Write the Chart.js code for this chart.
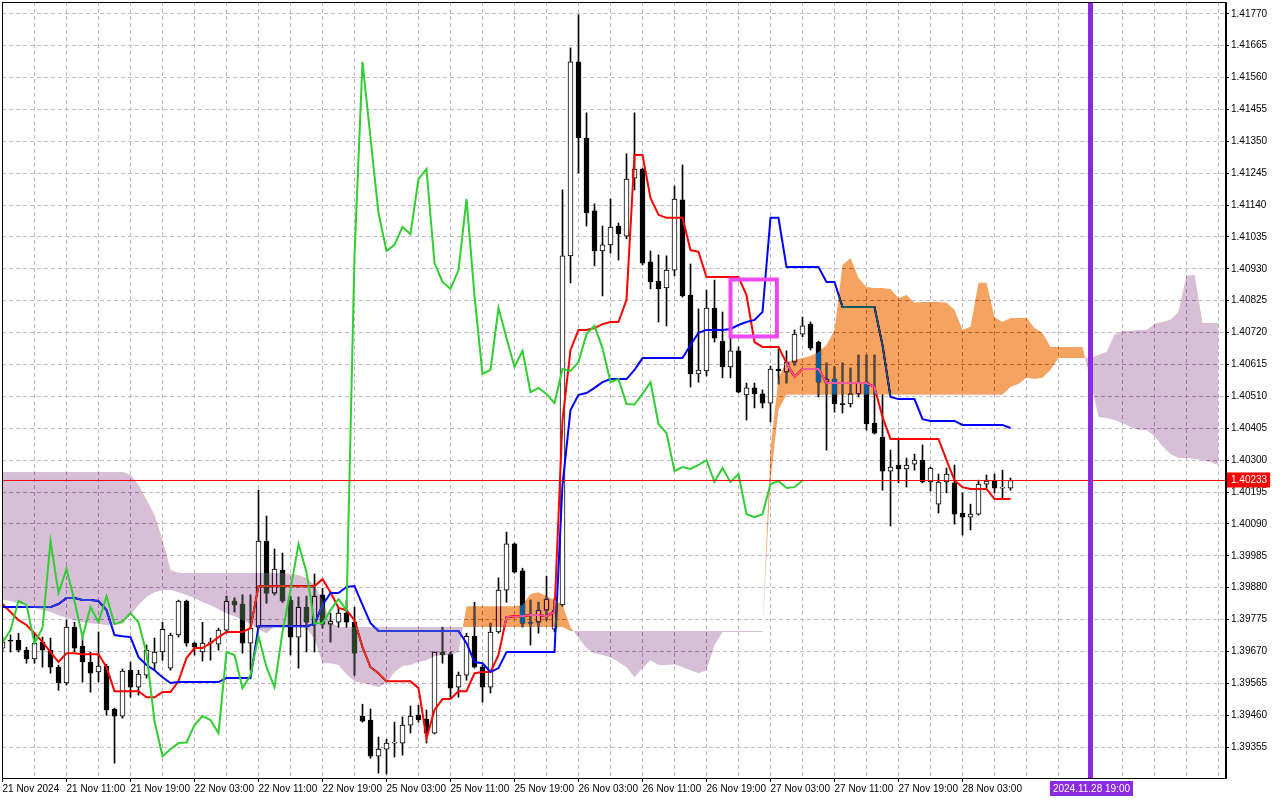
<!DOCTYPE html>
<html>
<head>
<meta charset="utf-8">
<title>H1 Ichimoku</title>
<script src="https://cdn.jsdelivr.net/npm/chart.js@4.4.1/dist/chart.umd.min.js"></script>
<style>
  html, body { margin: 0; padding: 0; background: #fff; }
  #wrap { width: 1280px; height: 800px; }
</style>
</head>
<body>
<div id="wrap"><canvas id="chart" width="1280" height="800"></canvas></div>
<script>
/* --------------- labels & ticks --------------------- */
const timeLabels = ["21 Nov 2024","21 Nov 11:00","21 Nov 19:00","22 Nov 03:00","22 Nov 11:00","22 Nov 19:00",
  "25 Nov 03:00","25 Nov 11:00","25 Nov 19:00","26 Nov 03:00","26 Nov 11:00","26 Nov 19:00",
  "27 Nov 03:00","27 Nov 11:00","27 Nov 19:00","28 Nov 03:00"];
const yTicks = [1.39355,1.39460,1.39565,1.39670,1.39775,1.39880,1.39985,1.40090,1.40195,1.40300,1.40405,1.40510,
  1.40615,1.40720,1.40825,1.40930,1.41035,1.41140,1.41245,1.41350,1.41455,1.41560,1.41665,1.41770];

/* --------------- candles (H1) --------------------- */
const open = [1.39681,1.39707,1.39707,1.39674,1.39645,1.39701,1.39674,1.39618,1.39566,1.39750,
  1.39687,1.39635,1.39602,1.39622,1.39480,1.39457,1.39608,1.39552,1.39592,1.39631,
  1.39668,1.39615,1.39724,1.39836,1.39697,1.39668,1.39697,1.39694,1.39740,1.39836,
  1.39826,1.39697,1.39750,1.40033,1.39862,1.39938,1.39839,1.39717,1.39816,1.39763,
  1.39856,1.39760,1.39766,1.39796,1.39766,1.39457,1.39444,1.39325,1.39348,1.39368,
  1.39368,1.39427,1.39460,1.39447,1.39401,1.39668,1.39661,1.39552,1.39592,1.39720,
  1.39618,1.39552,1.39734,1.39872,1.40024,1.39935,1.39766,1.39766,1.39806,1.39743,
  1.39823,1.40973,1.41612,1.41361,1.41121,1.40989,1.41009,1.41071,1.41038,1.41229,
  1.41259,1.40953,1.40890,1.40867,1.40926,1.41157,1.40844,1.40584,1.40594,1.40801,
  1.40692,1.40607,1.40660,1.40515,1.40538,1.40518,1.40488,1.40600,1.40590,1.40623,
  1.40715,1.40748,1.40689,1.40557,1.40567,1.40485,1.40485,1.40518,1.40557,1.40422,
  1.40376,1.40264,1.40284,1.40271,1.40287,1.40300,1.40228,1.40155,1.40228,1.40225,
  1.40126,1.40112,1.40122,1.40221,1.40231,1.40208,1.40208];
const high = [1.39717,1.39724,1.39730,1.39684,1.39730,1.39717,1.39714,1.39625,1.39773,1.39766,
  1.39717,1.39668,1.39734,1.39628,1.39483,1.39612,1.39635,1.39608,1.39691,1.39714,
  1.39766,1.39730,1.39839,1.39839,1.39701,1.39766,1.39714,1.39747,1.39852,1.39846,
  1.39856,1.39856,1.40201,1.40116,1.40007,1.39994,1.39852,1.39849,1.39852,1.39925,
  1.39878,1.39796,1.39813,1.39839,1.39816,1.39496,1.39480,1.39388,1.39381,1.39437,
  1.39454,1.39490,1.39493,1.39477,1.39668,1.39750,1.39668,1.39602,1.39730,1.39832,
  1.39625,1.39763,1.39912,1.40063,1.40027,1.39944,1.39839,1.39832,1.39918,1.39846,
  1.41190,1.41658,1.41767,1.41444,1.41144,1.41071,1.41160,1.41081,1.41309,1.41444,
  1.41262,1.40989,1.40976,1.40973,1.41203,1.41272,1.40946,1.40798,1.40860,1.40893,
  1.40788,1.40702,1.40673,1.40554,1.40554,1.40531,1.40610,1.40666,1.40660,1.40729,
  1.40771,1.40755,1.40692,1.40620,1.40607,1.40620,1.40603,1.40646,1.40646,1.40646,
  1.40515,1.40333,1.40373,1.40307,1.40320,1.40350,1.40277,1.40254,1.40274,1.40284,
  1.40192,1.40155,1.40234,1.40251,1.40254,1.40267,1.40241];
const low = [1.39668,1.39668,1.39668,1.39631,1.39631,1.39618,1.39598,1.39542,1.39559,1.39668,
  1.39569,1.39536,1.39569,1.39460,1.39302,1.39450,1.39519,1.39526,1.39582,1.39608,
  1.39641,1.39608,1.39717,1.39687,1.39658,1.39638,1.39641,1.39674,1.39730,1.39800,
  1.39664,1.39608,1.39747,1.39829,1.39856,1.39832,1.39658,1.39615,1.39668,1.39668,
  1.39747,1.39701,1.39750,1.39750,1.39592,1.39437,1.39318,1.39269,1.39266,1.39322,
  1.39328,1.39401,1.39437,1.39368,1.39398,1.39631,1.39516,1.39519,1.39575,1.39615,
  1.39503,1.39533,1.39730,1.39832,1.39928,1.39750,1.39691,1.39730,1.39773,1.39734,
  1.39819,1.40884,1.41246,1.41071,1.40940,1.40841,1.40982,1.40959,1.41029,1.41190,
  1.40943,1.40864,1.40755,1.40742,1.40907,1.40837,1.40541,1.40557,1.40577,1.40689,
  1.40571,1.40571,1.40521,1.40432,1.40472,1.40472,1.40426,1.40551,1.40554,1.40613,
  1.40706,1.40663,1.40508,1.40333,1.40458,1.40455,1.40475,1.40508,1.40399,1.40386,
  1.40201,1.40083,1.40225,1.40211,1.40267,1.40225,1.40198,1.40126,1.40192,1.40089,
  1.40053,1.40070,1.40119,1.40208,1.40192,1.40175,1.40201];
const close = [1.39701,1.39704,1.39674,1.39645,1.39697,1.39674,1.39618,1.39566,1.39750,1.39681,
  1.39635,1.39598,1.39622,1.39477,1.39457,1.39605,1.39552,1.39595,1.39674,1.39668,
  1.39743,1.39724,1.39836,1.39697,1.39684,1.39697,1.39699,1.39740,1.39836,1.39823,
  1.39697,1.39747,1.40033,1.39862,1.39941,1.39836,1.39717,1.39816,1.39766,1.39852,
  1.39760,1.39769,1.39796,1.39766,1.39664,1.39440,1.39325,1.39348,1.39368,1.39370,
  1.39427,1.39457,1.39444,1.39401,1.39668,1.39658,1.39549,1.39592,1.39720,1.39618,
  1.39552,1.39734,1.39872,1.40024,1.39931,1.39763,1.39763,1.39806,1.39842,1.39806,
  1.40973,1.41612,1.41361,1.41114,1.40989,1.41009,1.41068,1.41045,1.41226,1.41259,
  1.40949,1.40887,1.40864,1.40926,1.41160,1.40841,1.40584,1.40597,1.40801,1.40702,
  1.40607,1.40660,1.40524,1.40538,1.40518,1.40488,1.40600,1.40594,1.40623,1.40715,
  1.40742,1.40669,1.40557,1.40567,1.40485,1.40483,1.40518,1.40557,1.40419,1.40389,
  1.40264,1.40277,1.40271,1.40284,1.40300,1.40228,1.40274,1.40228,1.40254,1.40122,
  1.40112,1.40122,1.40221,1.40231,1.40208,1.40211,1.40233];

/* --------------- ichimoku lines --------------------- */
const tenkan = [1.39826,1.39800,1.39773,1.39757,1.39730,1.39701,1.39668,1.39635,1.39664,1.39664,
  1.39661,1.39661,1.39661,1.39618,1.39539,1.39539,1.39539,1.39539,1.39519,1.39519,
  1.39536,1.39536,1.39572,1.39648,1.39681,1.39681,1.39697,1.39717,1.39734,1.39734,
  1.39734,1.39747,1.39885,1.39885,1.39885,1.39885,1.39885,1.39885,1.39885,1.39885,
  1.39908,1.39865,1.39813,1.39806,1.39773,1.39684,1.39618,1.39598,1.39572,1.39572,
  1.39572,1.39572,1.39549,1.39384,1.39477,1.39513,1.39513,1.39539,1.39539,1.39598,
  1.39602,1.39602,1.39658,1.39783,1.39786,1.39786,1.39790,1.39790,1.39786,1.39800,
  1.40432,1.40663,1.40729,1.40729,1.40735,1.40748,1.40755,1.40755,1.40828,1.41305,
  1.41305,1.41164,1.41108,1.41098,1.41098,1.41098,1.40992,1.40986,1.40903,1.40903,
  1.40903,1.40903,1.40903,1.40844,1.40689,1.40673,1.40673,1.40673,1.40620,1.40574,
  1.40600,1.40600,1.40600,1.40554,1.40554,1.40554,1.40554,1.40554,1.40554,1.40541,
  1.40442,1.40370,1.40370,1.40370,1.40370,1.40370,1.40370,1.40370,1.40300,1.40234,
  1.40211,1.40205,1.40205,1.40205,1.40172,1.40172,1.40172];
const kijun = [1.39816,1.39816,1.39816,1.39816,1.39816,1.39816,1.39816,1.39826,1.39846,1.39846,
  1.39839,1.39839,1.39836,1.39806,1.39724,1.39720,1.39717,1.39651,1.39625,1.39608,
  1.39585,1.39566,1.39569,1.39569,1.39569,1.39569,1.39569,1.39569,1.39582,1.39582,
  1.39582,1.39582,1.39753,1.39753,1.39753,1.39753,1.39753,1.39753,1.39753,1.39760,
  1.39823,1.39862,1.39862,1.39882,1.39885,1.39823,1.39763,1.39737,1.39737,1.39737,
  1.39737,1.39737,1.39737,1.39737,1.39737,1.39737,1.39737,1.39737,1.39697,1.39635,
  1.39631,1.39602,1.39615,1.39668,1.39668,1.39668,1.39668,1.39668,1.39668,1.39668,
  1.40218,1.40465,1.40515,1.40521,1.40538,1.40557,1.40567,1.40567,1.40567,1.40597,
  1.40636,1.40636,1.40636,1.40636,1.40636,1.40636,1.40679,1.40719,1.40729,1.40729,
  1.40729,1.40732,1.40745,1.40755,1.40762,1.40788,1.41098,1.41098,1.40936,1.40936,
  1.40936,1.40936,1.40936,1.40887,1.40887,1.40804,1.40804,1.40804,1.40804,1.40804,
  1.40679,1.40508,1.40501,1.40501,1.40501,1.40435,1.40429,1.40429,1.40429,1.40429,
  1.40416,1.40416,1.40416,1.40416,1.40416,1.40416,1.40406];
// senkou spans, already shifted 26 bars forward (index 0..152)
const spanA = [1.39839,1.39836,1.39829,1.39823,1.39813,1.39806,1.39800,1.39790,1.39780,1.39773,
  1.39766,1.39763,1.39760,1.39757,1.39757,1.39760,1.39790,1.39823,1.39849,1.39865,
  1.39872,1.39872,1.39865,1.39856,1.39846,1.39832,1.39823,1.39809,1.39796,1.39786,
  1.39773,1.39760,1.39743,1.39730,1.39753,1.39753,1.39750,1.39750,1.39747,1.39711,
  1.39631,1.39631,1.39625,1.39595,1.39572,1.39566,1.39559,1.39552,1.39566,1.39602,
  1.39622,1.39625,1.39635,1.39641,1.39655,1.39658,1.39658,1.39668,1.39819,1.39819,
  1.39819,1.39819,1.39819,1.39819,1.39819,1.39823,1.39859,1.39865,1.39852,1.39839,
  1.39823,1.39750,1.39714,1.39681,1.39664,1.39658,1.39651,1.39635,1.39618,1.39585,
  1.39615,1.39641,1.39625,1.39625,1.39628,1.39618,1.39608,1.39598,1.39608,1.39691,
  1.39734,1.39734,1.39734,1.39734,1.39734,1.39734,1.40336,1.40571,1.40623,1.40630,
  1.40636,1.40643,1.40656,1.40679,1.40729,1.40943,1.40966,1.40900,1.40870,1.40867,
  1.40867,1.40864,1.40834,1.40844,1.40818,1.40821,1.40821,1.40821,1.40818,1.40795,
  1.40729,1.40739,1.40884,1.40884,1.40771,1.40755,1.40768,1.40768,1.40768,1.40735,
  1.40719,1.40673,1.40673,1.40673,1.40673,1.40673,1.40561,1.40442,1.40439,1.40432,
  1.40422,1.40409,1.40399,1.40399,1.40379,1.40346,1.40320,1.40307,1.40307,1.40304,
  1.40300,1.40294,1.40284];
const spanB = [1.40261,1.40261,1.40261,1.40261,1.40261,1.40261,1.40261,1.40261,1.40261,1.40261,
  1.40261,1.40261,1.40261,1.40261,1.40261,1.40261,1.40251,1.40218,1.40169,1.40119,
  1.40037,1.39938,1.39928,1.39928,1.39928,1.39928,1.39928,1.39928,1.39928,1.39928,
  1.39928,1.39928,1.39928,1.39928,1.39928,1.39928,1.39925,1.39921,1.39912,1.39888,
  1.39839,1.39766,1.39750,1.39750,1.39750,1.39750,1.39750,1.39750,1.39750,1.39750,
  1.39750,1.39750,1.39750,1.39750,1.39750,1.39750,1.39750,1.39750,1.39750,1.39750,
  1.39750,1.39750,1.39750,1.39750,1.39750,1.39750,1.39750,1.39750,1.39750,1.39750,
  1.39750,1.39737,1.39737,1.39737,1.39737,1.39737,1.39737,1.39737,1.39737,1.39737,
  1.39737,1.39737,1.39737,1.39737,1.39737,1.39737,1.39737,1.39737,1.39737,1.39737,
  1.39737,1.39737,1.39737,1.39737,1.39737,1.39737,1.40231,1.40465,1.40515,1.40515,
  1.40515,1.40515,1.40515,1.40515,1.40515,1.40515,1.40515,1.40515,1.40515,1.40515,
  1.40515,1.40515,1.40515,1.40515,1.40515,1.40515,1.40515,1.40515,1.40515,1.40515,
  1.40515,1.40515,1.40515,1.40515,1.40515,1.40515,1.40541,1.40551,1.40571,1.40567,
  1.40571,1.40597,1.40636,1.40636,1.40636,1.40636,1.40636,1.40646,1.40656,1.40712,
  1.40725,1.40725,1.40729,1.40729,1.40748,1.40755,1.40762,1.40788,1.40907,1.40910,
  1.40752,1.40752,1.40752];
// chikou span = close drawn 26 bars back
const chikouShift = 26;
const chikou = close.slice(chikouShift);

/* --------------- objects on the chart --------------------- */
const lastPrice = close[close.length - 1];
const markerIndex = 136;               // vertical line, 2024.11.28 19:00
const markerLabel = "2024.11.28 19:00";
const markerLabelAt = 131.3;           // label is centred under the line
const boxFrom = 91, boxTo = 96.8, boxTop = 1.40895, boxBottom = 1.40707;

/* --------------- view --------------------- */
const xMin = -0.0625, xMax = 152.9375;
const yMin = 1.39253, yMax = 1.41809;
const gridColor = "#c6b8ca";
const font = { family: "Liberation Sans", size: 10 };
const clear = "rgba(0,0,0,0)";

const pts = arr => arr.map((v, i) => ({ x: i, y: v }));
const wickData = high.map((h, i) => ({ x: i, y: [low[i], h] }));
const bodyData = open.map((o, i) => ({ x: i, y: [o, close[i]] }));
const bodyFill = open.map((o, i) => close[i] >= o ? "#ffffff" : "#000000");

const xTickValues = [];
for (let v = 0; v <= 152; v += 4) xTickValues.push(v);

function xLabel(v) {
  if (v === markerLabelAt) return markerLabel;
  if (v % 8 === 0 && v / 8 < timeLabels.length) return timeLabels[v / 8];
  return "";
}

// the kumo is painted like MT5 does it: inverted colours blended over the candles
const kumoBlend = {
  id: "kumoBlend",
  beforeDraw(chart) {
    const ctx = chart.ctx;
    ctx.save();
    ctx.fillStyle = "#ffffff";
    ctx.fillRect(0, 0, chart.width, chart.height);
    ctx.restore();
  },
  beforeDatasetsDraw(chart) {
    chart.ctx.globalCompositeOperation = "source-over";
  },
  afterDatasetDraw(chart, args) {
    const metas = chart.getSortedVisibleDatasetMetas();
    const next = metas[metas.indexOf(args.meta) - 1];
    chart.ctx.globalCompositeOperation =
      next && chart.data.datasets[next.index].kumo ? "difference" : "source-over";
  },
  afterDatasetsDraw(chart) {
    chart.ctx.globalCompositeOperation = "source-over";
  },
  afterDraw(chart) {
    const { ctx, chartArea: a } = chart;
    ctx.save();
    ctx.strokeStyle = "#000";
    ctx.lineWidth = 1;
    ctx.strokeRect(a.left + 0.5, a.top + 0.5, a.right - a.left - 1, a.bottom - a.top);
    ctx.restore();
  }
};

const thin = { type: "line", pointRadius: 0, tension: 0, fill: false };

new Chart(document.getElementById("chart"), {
  type: "line",
  plugins: [kumoBlend],
  data: {
    datasets: [
      { type: "bar", label: "wick", data: wickData, backgroundColor: "#000", borderWidth: 0,
        barThickness: 1, grouped: false, order: 10 },
      { type: "bar", label: "body", data: bodyData, backgroundColor: bodyFill, borderColor: "#000",
        borderWidth: 1, borderSkipped: false, barThickness: 5, minBarLength: 1, grouped: false, order: 9 },
      { ...thin, label: "Tenkan-sen", data: pts(tenkan), borderColor: "#ff0000", borderWidth: 2, order: 8 },
      { ...thin, label: "Kijun-sen", data: pts(kijun), borderColor: "#0000ff", borderWidth: 2, order: 7 },
      { ...thin, label: "Senkou Span A", data: pts(spanA), borderColor: clear, borderWidth: 0, order: 6, kumo: true,
        fill: { target: 5, above: "rgb(11,91,159)", below: "rgb(39,64,39)" } },
      { ...thin, label: "Senkou Span B", data: pts(spanB), borderColor: clear, borderWidth: 0, order: 5 },
      { ...thin, label: "Chikou Span", data: pts(chikou), borderColor: "#32cd32", borderWidth: 2, order: 4 },
      { ...thin, label: "price", data: [{ x: xMin, y: lastPrice }, { x: xMax, y: lastPrice }],
        borderColor: "#ff0000", borderWidth: 1, order: 3 },
      { ...thin, label: "marker", data: [{ x: markerIndex, y: yMin }, { x: markerIndex, y: yMax }],
        borderColor: "#8a2be2", borderWidth: 5, order: 2 },
      { ...thin, label: "box", data: [{ x: boxFrom, y: boxTop }, { x: boxTo, y: boxTop }, { x: boxTo, y: boxBottom },
        { x: boxFrom, y: boxBottom }, { x: boxFrom, y: boxTop }],
        borderColor: "#f048f0", borderWidth: 4, borderJoinStyle: "miter", borderCapStyle: "square", order: 1 }
    ]
  },
  options: {
    responsive: false,
    animation: false,
    devicePixelRatio: 1,
    events: [],
    layout: { padding: { left: 2, top: 2, right: 0, bottom: 0 } },
    plugins: { legend: { display: false }, tooltip: { enabled: false } },
    scales: {
      x: {
        type: "linear", min: xMin, max: xMax, offset: false, bounds: "data",
        afterBuildTicks: s => {
          s.ticks = xTickValues.map(v => ({ value: v })).concat([{ value: markerLabelAt }]);
        },
        afterFit: s => { s.height = 22; s.paddingLeft = 0; s.paddingRight = 0; },
        ticks: {
          autoSkip: false, maxRotation: 0, minRotation: 0, align: "start", padding: 1, font,
          callback: v => xLabel(v),
          color: c => c.tick && c.tick.value === markerLabelAt ? "#ffffff" : "#000000",
          showLabelBackdrop: c => !!(c.tick && c.tick.value === markerLabelAt),
          backdropColor: "#8a2be2",
          backdropPadding: { left: 3, right: 3, top: 2, bottom: 1 }
        },
        grid: {
          offset: false, lineWidth: 1, tickLength: 4, tickWidth: 1,
          color: c => c.tick && c.tick.value === markerLabelAt ? clear : gridColor,
          tickColor: c => c.tick && xLabel(c.tick.value) !== "" && c.tick.value !== markerLabelAt ? "#000" : clear
        },
        border: { display: true, color: "#000", width: 1, dash: [4, 3] }
      },
      y: {
        type: "linear", position: "right", min: yMin, max: yMax, bounds: "data",
        afterBuildTicks: s => {
          s.ticks = yTicks.concat([lastPrice]).map(v => ({ value: v }));
        },
        afterFit: s => { s.width = 54; s.paddingTop = 0; s.paddingBottom = 0; },
        ticks: {
          autoSkip: false, padding: 2, font,
          callback: v => v.toFixed(5),
          color: c => c.tick && c.tick.value === lastPrice ? "#ffffff" : "#000000",
          showLabelBackdrop: c => !!(c.tick && c.tick.value === lastPrice),
          backdropColor: "#ff0000",
          backdropPadding: { left: 4, right: 3, top: 2, bottom: 1 }
        },
        grid: {
          lineWidth: 1, tickLength: 3, tickWidth: 1, tickColor: "#000",
          color: c => c.tick && c.tick.value === lastPrice ? clear : gridColor
        },
        border: { display: true, color: "#000", width: 1, dash: [4, 3] }
      }
    }
  }
});
</script>
</body>
</html>
